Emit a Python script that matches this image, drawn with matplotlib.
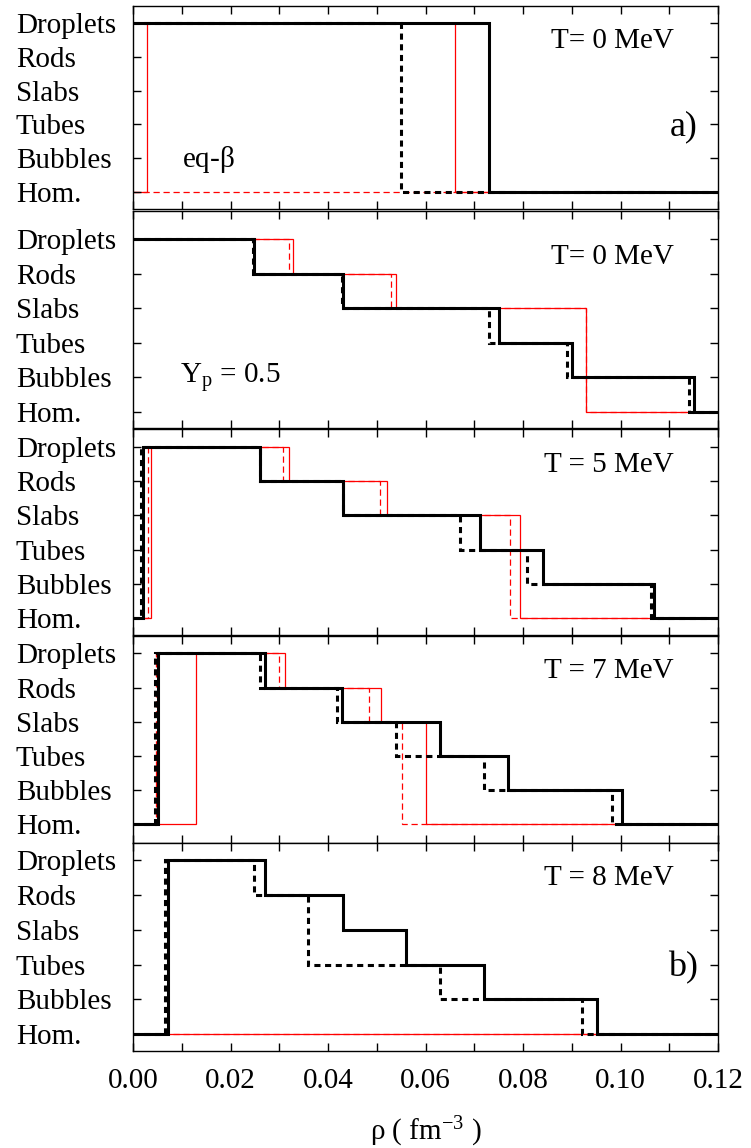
import matplotlib
matplotlib.use('Agg')
import matplotlib.pyplot as plt
from matplotlib.ticker import MultipleLocator

plt.rcParams['font.family'] = ['Liberation Serif', 'DejaVu Serif']
plt.rcParams['mathtext.fontset'] = 'custom'
plt.rcParams['mathtext.rm'] = 'Liberation Serif'
plt.rcParams['mathtext.it'] = 'Liberation Serif'

phases = ['Hom.', 'Bubbles', 'Tubes', 'Slabs', 'Rods', 'Droplets']

# each curve: density edges (fm^-3) and the phase index between them
# panel a) T=0, eq-beta
p1_black_solid_x = [0, 0.073, 0.12]
p1_black_solid_y = [5, 0]
p1_black_dash_x = [0, 0.0549, 0.12]
p1_black_dash_y = [5, 0]
p1_red_solid_x = [0, 0.0028, 0.066, 0.12]
p1_red_solid_y = [0, 5, 0]
p1_red_dash_x = [0, 0.12]
p1_red_dash_y = [0]

# T=0, Yp=0.5
p2_black_solid_x = [0, 0.0249, 0.043, 0.0751, 0.090, 0.1151, 0.12]
p2_black_solid_y = [5, 4, 3, 2, 1, 0]
p2_black_dash_x = [0, 0.0247, 0.0428, 0.073, 0.0891, 0.114, 0.12]
p2_black_dash_y = [5, 4, 3, 2, 1, 0]
p2_red_solid_x = [0, 0.0329, 0.0539, 0.0929, 0.12]
p2_red_solid_y = [5, 4, 3, 0]
p2_red_dash_x = [0, 0.0319, 0.053, 0.0929, 0.12]
p2_red_dash_y = [5, 4, 3, 0]

# T=5
p3_black_solid_x = [0, 0.002, 0.026, 0.043, 0.0711, 0.0841, 0.1068, 0.12]
p3_black_solid_y = [0, 5, 4, 3, 2, 1, 0]
p3_black_dash_x = [0, 0.0016, 0.026, 0.043, 0.0671, 0.0809, 0.1062, 0.12]
p3_black_dash_y = [0, 5, 4, 3, 2, 1, 0]
p3_red_solid_x = [0, 0.0036, 0.0319, 0.0522, 0.0793, 0.12]
p3_red_solid_y = [0, 5, 4, 3, 0]
p3_red_dash_x = [0, 0.0031, 0.0308, 0.0506, 0.0774, 0.12]
p3_red_dash_y = [0, 5, 4, 3, 0]

# T=7
p4_black_solid_x = [0, 0.0051, 0.027, 0.0428, 0.063, 0.077, 0.1003, 0.12]
p4_black_solid_y = [0, 5, 4, 3, 2, 1, 0]
p4_black_dash_x = [0, 0.0045, 0.026, 0.0419, 0.054, 0.0719, 0.0983, 0.12]
p4_black_dash_y = [0, 5, 4, 3, 2, 1, 0]
p4_red_solid_x = [0, 0.0129, 0.0312, 0.0509, 0.0602, 0.12]
p4_red_solid_y = [0, 5, 4, 3, 0]
p4_red_dash_x = [0, 0.0048, 0.030, 0.0485, 0.0551, 0.12]
p4_red_dash_y = [0, 5, 4, 3, 0]

# T=8
p5_black_solid_x = [0, 0.0072, 0.027, 0.043, 0.056, 0.0719, 0.0951, 0.12]
p5_black_solid_y = [0, 5, 4, 3, 2, 1, 0]
p5_black_dash_x = [0, 0.0066, 0.0249, 0.0359, 0.063, 0.0921, 0.12]
p5_black_dash_y = [0, 5, 4, 2, 1, 0]
p5_red_solid_x = [0, 0.12]
p5_red_solid_y = [0]
p5_red_dash_x = [0, 0.12]
p5_red_dash_y = [0]

panels = [
    (p1_black_solid_x, p1_black_solid_y, p1_black_dash_x, p1_black_dash_y,
     p1_red_solid_x, p1_red_solid_y, p1_red_dash_x, p1_red_dash_y),
    (p2_black_solid_x, p2_black_solid_y, p2_black_dash_x, p2_black_dash_y,
     p2_red_solid_x, p2_red_solid_y, p2_red_dash_x, p2_red_dash_y),
    (p3_black_solid_x, p3_black_solid_y, p3_black_dash_x, p3_black_dash_y,
     p3_red_solid_x, p3_red_solid_y, p3_red_dash_x, p3_red_dash_y),
    (p4_black_solid_x, p4_black_solid_y, p4_black_dash_x, p4_black_dash_y,
     p4_red_solid_x, p4_red_solid_y, p4_red_dash_x, p4_red_dash_y),
    (p5_black_solid_x, p5_black_solid_y, p5_black_dash_x, p5_black_dash_y,
     p5_red_solid_x, p5_red_solid_y, p5_red_dash_x, p5_red_dash_y),
]
titles = ['T= 0 MeV', 'T= 0 MeV', 'T = 5 MeV', 'T = 7 MeV', 'T = 8 MeV']

W, H = 751, 1148
fig = plt.figure(figsize=(W / 100, H / 100), dpi=100)

# panel frames in pixels (top, bottom) and y limits
frames = [(6, 209), (211, 428), (429, 635), (636, 843), (843, 1051)]
ylims = [(-0.5, 5.5), (-0.47, 5.82), (-0.49, 5.52), (-0.55, 5.51), (-0.49, 5.5)]
left, right = 133, 718
label_left = 16  # y tick labels are left aligned here

fs = 21
axes = []
for i, (top, bot) in enumerate(frames):
    ax = fig.add_axes([left / W, 1 - bot / H, (right - left) / W, (bot - top) / H])
    bsx, bsy, bdx, bdy, rsx, rsy, rdx, rdy = panels[i]
    ax.stairs(rdy, rdx, baseline=None, color='red', lw=0.9, ls=(0, (5, 3)))
    ax.stairs(rsy, rsx, baseline=None, color='red', lw=0.9)
    ax.stairs(bdy, bdx, baseline=None, color='black', lw=2.2, ls=(0, (2, 1.5)))
    ax.stairs(bsy, bsx, baseline=None, color='black', lw=2.2)

    ax.set_xlim(0, 0.12)
    ax.set_ylim(*ylims[i])
    ax.set_yticks(range(6))
    ax.set_yticklabels(phases, fontsize=fs, ha='left')
    ax.xaxis.set_major_locator(MultipleLocator(0.02))
    ax.xaxis.set_minor_locator(MultipleLocator(0.01))
    ax.tick_params(which='both', direction='in', top=True, right=True,
                   length=6, width=1, labelsize=fs)
    ax.tick_params(axis='y', pad=(left - label_left) * 72 / 100)
    for s in ax.spines.values():
        s.set_linewidth(1.0)
    if i < 4:
        ax.tick_params(labelbottom=False)
    else:
        ax.set_xticklabels(['%.2f' % v for v in ax.get_xticks()])
        ax.tick_params(axis='x', pad=12)
    ax.text(0.1109, 4.48, titles[i], fontsize=fs, ha='right', va='center')
    axes.append(ax)

axes[0].text(0.1159, 1.92, 'a)', fontsize=26, ha='right', va='center')
axes[0].text(0.0100, 0.95, r'eq-$\beta$', fontsize=fs, ha='left', va='center')
axes[1].text(0.0096, 1.0, r'Y$_\mathrm{p}$ = 0.5', fontsize=fs, ha='left', va='center')
axes[4].text(0.1159, 1.9, 'b)', fontsize=26, ha='right', va='center')

fig.text((left + right) / 2 / W, 1 - 1132 / H, r'$\mathrm{\rho}$ ( fm$^{-3}$ )',
         fontsize=fs, ha='center', va='center')

fig.savefig('out.png', dpi=100)
